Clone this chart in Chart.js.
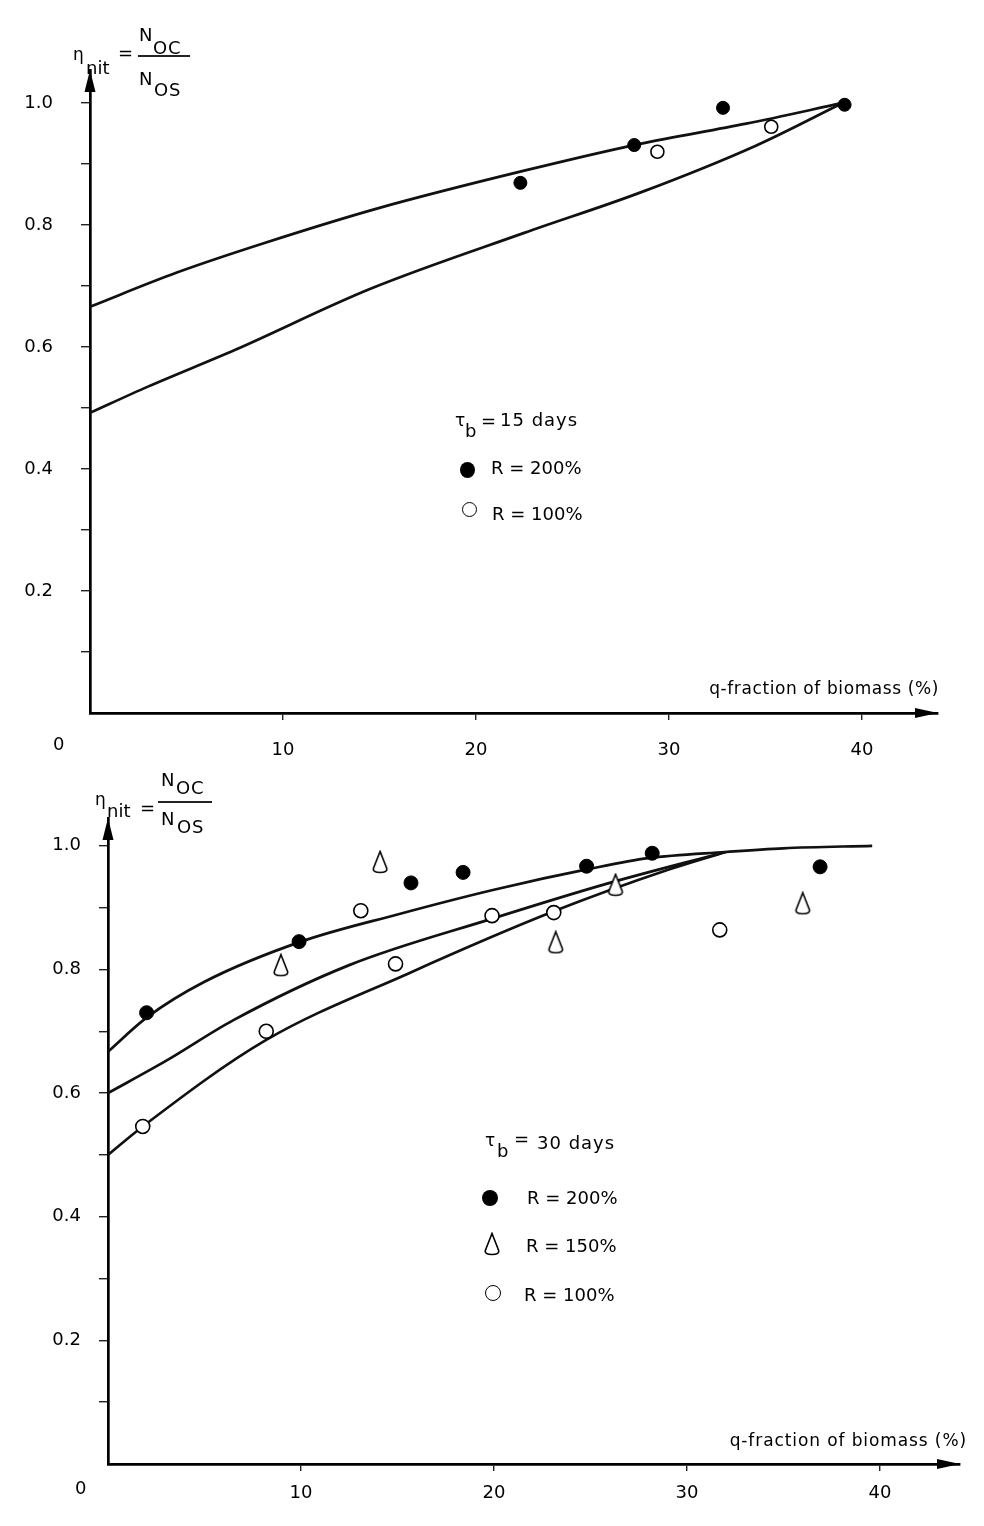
<!DOCTYPE html>
<html>
<head>
<meta charset="utf-8">
<script src="https://cdn.jsdelivr.net/npm/chart.js@4.4.1/dist/chart.umd.min.js"></script>
<style>
  html, body { margin: 0; padding: 0; background: #fff; }
  body { width: 984px; height: 1526px; position: relative; overflow: hidden; }
  canvas { position: absolute; left: 0; }
  .t { position: absolute; font-family: 'DejaVu Sans', sans-serif; font-size: 18px; line-height: 1; white-space: nowrap; color: #000; }
  .g { font-size: 17px; }
  .ls { letter-spacing: 0.8px; }
  .bar { position: absolute; height: 1.5px; background: #222; }
  .dot { position: absolute; border-radius: 50%; box-sizing: border-box; }
</style>
</head>
<body>
<canvas id="c1" width="984" height="780" style="top:0px"></canvas>
<canvas id="c2" width="984" height="786" style="top:740px"></canvas>

<!-- Top chart annotations -->
<div class="t g" style="left:73px;top:46px">η</div>
<div class="t" style="left:86px;top:59px">nit</div>
<div class="t" style="left:118px;top:44px">=</div>
<div class="t" style="left:139px;top:26px">N</div>
<div class="t ls" style="left:153px;top:39px">OC</div>
<div class="bar" style="left:138px;top:55px;width:52px"></div>
<div class="t" style="left:139px;top:70px">N</div>
<div class="t ls" style="left:154px;top:81px">OS</div>

<div class="t g" style="left:455px;top:412px">τ</div>
<div class="t" style="left:465px;top:422px">b</div>
<div class="t" style="left:481px;top:412px">=</div>
<div class="t" style="left:500px;top:411px;letter-spacing:1px">15 days</div>
<div class="dot" style="left:460px;top:462px;width:15px;height:16px;background:#000"></div>
<div class="t" style="left:491px;top:459px">R = 200%</div>
<div class="dot" style="left:462px;top:502px;width:15px;height:15px;border:1.6px solid #000;background:#fff"></div>
<div class="t" style="left:492px;top:505px">R = 100%</div>

<div class="t" style="right:45px;top:680px;font-size:17px;letter-spacing:0.6px">q-fraction of biomass (%)</div>
<div class="t" style="left:53px;top:735px">0</div>

<!-- Bottom chart annotations -->
<div class="t g" style="left:95px;top:791px">η</div>
<div class="t" style="left:107px;top:802px">nit</div>
<div class="t" style="left:140px;top:799px">=</div>
<div class="t" style="left:161px;top:771px">N</div>
<div class="t ls" style="left:176px;top:779px">OC</div>
<div class="bar" style="left:158px;top:801px;width:54px"></div>
<div class="t" style="left:161px;top:810px">N</div>
<div class="t ls" style="left:177px;top:818px">OS</div>

<div class="t g" style="left:485px;top:1132px">τ</div>
<div class="t" style="left:497px;top:1142px">b</div>
<div class="t" style="left:514px;top:1130px">=</div>
<div class="t" style="left:537px;top:1134px;letter-spacing:1px">30 days</div>
<div class="dot" style="left:482px;top:1190px;width:16px;height:16px;background:#000"></div>
<div class="t" style="left:527px;top:1189px">R = 200%</div>
<svg style="position:absolute;left:483px;top:1232px" width="18" height="24" viewBox="0 0 18 24">
  <path d="M9 1.5 L15.5 18 Q17 22.5 9 22.5 Q1 22.5 2.5 18 Z" fill="#fff" stroke="#000" stroke-width="1.6"/>
</svg>
<div class="t" style="left:526px;top:1237px">R = 150%</div>
<div class="dot" style="left:485px;top:1285px;width:16px;height:16px;border:1.6px solid #000;background:#fff"></div>
<div class="t" style="left:524px;top:1286px">R = 100%</div>

<div class="t" style="right:17px;top:1432px;font-size:17px;letter-spacing:0.9px">q-fraction of biomass (%)</div>
<div class="t" style="left:75px;top:1479px">0</div>

<script>
// ---------- Data: top panel (tau_b = 15 days) ----------
const t15_R200_q   = [22.3, 28.2, 32.8, 39.1];
const t15_R200_eta = [0.869, 0.931, 0.992, 0.997];
const t15_R100_q   = [29.4, 35.3];
const t15_R100_eta = [0.920, 0.961];
const t15_curve200_q   = [0, 4.5, 9, 15, 22.5, 28.5, 34, 39];
const t15_curve200_eta = [0.666, 0.722, 0.770, 0.828, 0.889, 0.933, 0.966, 1.0];
const t15_curve100_q   = [0, 3, 7.5, 14.5, 22.5, 28.5, 34.5, 39];
const t15_curve100_eta = [0.492, 0.535, 0.595, 0.695, 0.787, 0.853, 0.930, 1.0];

// ---------- Data: bottom panel (tau_b = 30 days) ----------
const t30_R200_q   = [2.0, 9.9, 15.7, 18.4, 24.8, 28.2, 36.9];
const t30_R200_eta = [0.730, 0.845, 0.940, 0.957, 0.967, 0.988, 0.966];
const t30_R150_q   = [8.96, 14.1, 23.2, 26.3, 36.0];
const t30_R150_eta = [0.807, 0.974, 0.844, 0.937, 0.907];
const t30_R100_q   = [1.8, 8.2, 13.1, 14.9, 19.9, 23.1, 31.7];
const t30_R100_eta = [0.546, 0.700, 0.895, 0.809, 0.887, 0.892, 0.864];
const t30_curve200_q   = [0, 2, 5, 10, 15, 20, 25, 28, 32, 35, 39.6];
const t30_curve200_eta = [0.667, 0.722, 0.780, 0.845, 0.889, 0.929, 0.963, 0.980, 0.990, 0.996, 1.0];
const t30_curve150_q   = [0, 3, 6.5, 12.5, 20, 26, 32];
const t30_curve150_eta = [0.600, 0.652, 0.718, 0.807, 0.883, 0.940, 0.990];
const t30_curve100_q   = [0, 1.8, 8.2, 15.6, 23.1, 29.1, 32];
const t30_curve100_eta = [0.500, 0.546, 0.686, 0.794, 0.894, 0.962, 0.990];

// ---------- Tick labels ----------
const xTickLabels = ['10', '20', '30', '40'];
const yTickLabels = ['0.2', '0.4', '0.6', '0.8', '1.0'];

const pts = (xs, ys) => xs.map((x, i) => ({ x: x, y: ys[i] }));

function makeTriangle() {
  const c = document.createElement('canvas');
  c.width = 18; c.height = 24;
  const g = c.getContext('2d');
  g.lineWidth = 1.6; g.strokeStyle = '#000'; g.fillStyle = '#fff';
  g.beginPath();
  g.moveTo(9, 1.5);
  g.lineTo(15.5, 18);
  g.quadraticCurveTo(17, 22.5, 9, 22.5);
  g.quadraticCurveTo(1, 22.5, 2.5, 18);
  g.closePath();
  g.fill(); g.stroke();
  return c;
}
const triImg = makeTriangle();

const arrowPlugin = {
  id: 'arrows',
  afterDraw(chart) {
    const ctx = chart.ctx, a = chart.chartArea;
    ctx.save();
    ctx.fillStyle = '#000';
    ctx.beginPath();
    ctx.moveTo(a.left, a.top);
    ctx.lineTo(a.left - 5.5, a.top + 22);
    ctx.lineTo(a.left + 5.5, a.top + 22);
    ctx.closePath(); ctx.fill();
    ctx.beginPath();
    ctx.moveTo(a.right, a.bottom);
    ctx.lineTo(a.right - 23, a.bottom - 5);
    ctx.lineTo(a.right - 23, a.bottom + 5);
    ctx.closePath(); ctx.fill();
    ctx.restore();
  }
};

function curve(xs, ys) {
  return { type: 'scatter', data: pts(xs, ys), showLine: true, borderColor: '#111', borderWidth: 2.7,
           pointRadius: 0, cubicInterpolationMode: 'monotone', fill: false, order: 2 };
}
function filled(xs, ys, r) {
  return { type: 'scatter', data: pts(xs, ys), pointRadius: r, pointBackgroundColor: '#000',
           pointBorderColor: '#000', pointBorderWidth: 1, showLine: false, order: 0 };
}
function open(xs, ys, r) {
  return { type: 'scatter', data: pts(xs, ys), pointRadius: r, pointBackgroundColor: '#fff',
           pointBorderColor: '#000', pointBorderWidth: 1.6, showLine: false, order: 0 };
}
function tri(xs, ys) {
  return { type: 'scatter', data: pts(xs, ys), pointStyle: triImg, pointRadius: 9, showLine: false, order: 0 };
}

const tickFont = { family: 'DejaVu Sans', size: 18 };
const near = (v, s) => Math.abs(v / s - Math.round(v / s)) < 1e-6;

function opts(p) {
  return {
    responsive: false, animation: false, events: [],
    layout: { padding: { top: p.top, right: p.right, left: 0, bottom: 0 } },
    plugins: { legend: { display: false }, tooltip: { enabled: false } },
    scales: {
      x: {
        type: 'linear', min: 0, max: p.xmax,
        afterFit(s) { s.height = p.xh; },
        afterBuildTicks(s) { s.ticks = s.ticks.filter(t => t.value > 5 && t.value < 40.5 && near(t.value, 10)); },
        ticks: { stepSize: 10, includeBounds: false, autoSkip: false, maxRotation: 0, font: tickFont, color: '#000', padding: p.xpad,
                 callback: v => { const i = Math.round(v / 10) - 1; return xTickLabels[i] || ''; } },
        grid: { drawOnChartArea: false, drawTicks: true, tickLength: 7, color: '#222', lineWidth: 1.4 },
        border: { display: true, color: '#000', width: 2.7 }
      },
      y: {
        type: 'linear', min: 0, max: p.ymax,
        afterFit(s) { s.width = p.yw; },
        afterBuildTicks(s) { s.ticks = s.ticks.filter(t => t.value > 0.05 && t.value < 1.01 && near(t.value, 0.1)); },
        ticks: { stepSize: 0.1, includeBounds: false, autoSkip: false, font: tickFont, color: '#000', padding: p.ypad,
                 callback: v => { const r = Math.round(v * 10); return (r % 2 === 0) ? (yTickLabels[r / 2 - 1] || '') : ''; } },
        grid: { drawOnChartArea: false, drawTicks: true, tickLength: 9, color: '#222', lineWidth: 1.4 },
        border: { display: true, color: '#000', width: 2.7 }
      }
    }
  };
}

new Chart(document.getElementById('c1'), {
  type: 'scatter',
  data: { datasets: [
    filled(t15_R200_q, t15_R200_eta, 6.5),
    open(t15_R100_q, t15_R100_eta, 6.5),
    curve(t15_curve200_q, t15_curve200_eta),
    curve(t15_curve100_q, t15_curve100_eta)
  ] },
  options: opts({ top: 70, right: 46, xmax: 43.94, ymax: 1.054, xh: 67, yw: 90, xpad: 20, ypad: 28 }),
  plugins: [arrowPlugin]
});

new Chart(document.getElementById('c2'), {
  type: 'scatter',
  data: { datasets: [
    filled(t30_R200_q, t30_R200_eta, 7),
    tri(t30_R150_q, t30_R150_eta),
    open(t30_R100_q, t30_R100_eta, 7),
    curve(t30_curve200_q, t30_curve200_eta),
    curve(t30_curve150_q, t30_curve150_eta),
    curve(t30_curve100_q, t30_curve100_eta)
  ] },
  options: opts({ top: 78, right: 24, xmax: 44.15, ymax: 1.045, xh: 62, yw: 108, xpad: 12, ypad: 18 }),
  plugins: [arrowPlugin]
});
</script>
</body>
</html>
